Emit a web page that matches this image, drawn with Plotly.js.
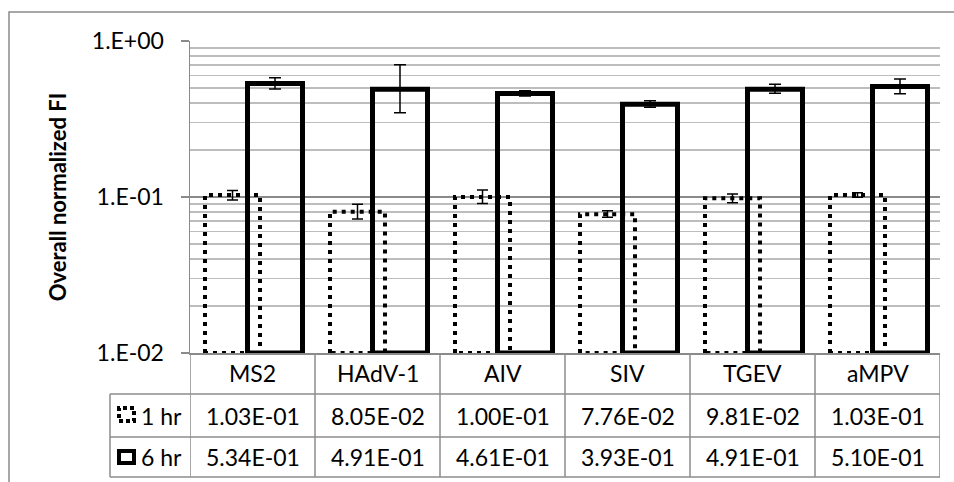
<!DOCTYPE html>
<html>
<head>
<meta charset="utf-8">
<script src="https://cdn.plot.ly/plotly-3.0.1.min.js"></script>
<style>html,body{margin:0;padding:0;background:#fff;}#chart{width:954px;height:482px;}</style>
</head>
<body>
<div id="chart"></div>
<script>
// ---- data ----
const categories = ['MS2', 'HAdV-1', 'AIV', 'SIV', 'TGEV', 'aMPV'];
const seriesNames = ['1 hr', '6 hr'];
const hr1 = [0.103, 0.0805, 0.100, 0.0776, 0.0981, 0.103];
const hr6 = [0.534, 0.491, 0.461, 0.393, 0.491, 0.510];
const hr1ErrPlus  = [0.0070, 0.0093, 0.0110, 0.0041, 0.0064, 0.0036];
const hr1ErrMinus = [0.0073, 0.0083, 0.0090, 0.0035, 0.0062, 0.0035];
const hr6ErrPlus  = [0.048, 0.214, 0.019, 0.021, 0.037, 0.061];
const hr6ErrMinus = [0.042, 0.144, 0.017, 0.017, 0.029, 0.051];
const yTickVals = [0.01, 0.1, 1];
const yTickText = ['1.E-02', '1.E-01', '1.E+00'];
const yMinorVals = [0.02, 0.03, 0.04, 0.05, 0.06, 0.07, 0.08, 0.09,
                    0.2, 0.3, 0.4, 0.5, 0.6, 0.7, 0.8, 0.9];
const yTitle = 'Overall normalized FI';

// ---- layout helpers ----
const W = 954, H = 482;
const L = 190, R = 940, T = 41, B = 353;
const PW = R - L, PH = B - T;
const px = x => (x - L) / PW;
const py = y => (B - y) / PH;
const FONT = 'Lato, "Open Sans", sans-serif';
const GRID = '#8a8a8a';
const MINOR = '#bdbdbd';
const TABLE = '#8c8c8c';

const idx = categories.map((_, i) => i);
const BASE = 0.01;
const BW = 0.44;
const OFF1 = -0.38, OFF6 = -0.04;

function fmtE(v) {
  let e = Math.floor(Math.log10(v));
  let m = v / Math.pow(10, e);
  if (Number(m.toFixed(2)) >= 10) { m /= 10; e += 1; }
  const sign = e < 0 ? '-' : '+';
  return m.toFixed(2) + 'E' + sign + String(Math.abs(e)).padStart(2, '0');
}

// dotted outline path for 1 hr bars (derived from data)
const dotX = [], dotY = [];
idx.forEach((i, k) => {
  const x0 = i + OFF1, x1 = i + OFF1 + BW, v = hr1[k];
  dotX.push(x0, x0, x1, x1, x0, null);
  dotY.push(BASE, v, v, BASE, BASE, null);
});

const traces = [
  {
    type: 'bar', name: seriesNames[0], x: idx, y: hr1.map(v => v - BASE), base: BASE,
    offset: OFF1, width: BW,
    marker: {color: 'rgba(0,0,0,0)', line: {width: 0}},
    error_y: {type: 'data', symmetric: false, array: hr1ErrPlus, arrayminus: hr1ErrMinus,
              color: '#000', thickness: 1.5, width: 5.5},
    cliponaxis: false, showlegend: false, hoverinfo: 'skip'
  },
  {
    type: 'scatter', mode: 'lines', x: dotX, y: dotY,
    line: {color: '#000', width: 4, dash: '4px,5px'},
    cliponaxis: false, showlegend: false, hoverinfo: 'skip'
  },
  {
    type: 'bar', name: seriesNames[1], x: idx, y: hr6.map(v => v - BASE), base: BASE,
    offset: OFF6, width: BW,
    marker: {color: 'rgba(0,0,0,0)', line: {color: '#000', width: 5}},
    error_y: {type: 'data', symmetric: false, array: hr6ErrPlus, arrayminus: hr6ErrMinus,
              color: '#000', thickness: 1.5, width: 6},
    cliponaxis: false, showlegend: false, hoverinfo: 'skip'
  }
];

// ---- data table (shapes + annotations) ----
const shapes = [];
const annotations = [];
const rowLines = [394, 437, 477];
const rowCenters = [415.5, 457];
const headerCenter = 373;

// outer chart-area frame
shapes.push({type: 'rect', xref: 'paper', yref: 'paper',
  x0: px(9), x1: px(975), y0: py(12), y1: py(500),
  line: {color: GRID, width: 1.5}, layer: 'below'});

// column separators
for (let j = 0; j <= categories.length; j++) {
  shapes.push({type: 'line', xref: 'x', yref: 'paper',
    x0: j - 0.5, x1: j - 0.5, y0: 0, y1: py(rowLines[2]),
    line: {color: TABLE, width: 1.5}});
}
// row separators
rowLines.forEach(r => {
  shapes.push({type: 'line', xref: 'paper', yref: 'paper',
    x0: px(110), x1: 1, y0: py(r), y1: py(r),
    line: {color: TABLE, width: 1.5}});
});
// left edge of row-label column
shapes.push({type: 'line', xref: 'paper', yref: 'paper',
  x0: px(110), x1: px(110), y0: py(rowLines[0]), y1: py(rowLines[2]),
  line: {color: TABLE, width: 1.5}});

// legend keys
shapes.push({type: 'rect', xref: 'paper', yref: 'paper',
  x0: px(119), x1: px(134), y0: py(421), y1: py(408),
  line: {color: '#000', width: 4, dash: '4px,3px'}});
shapes.push({type: 'rect', xref: 'paper', yref: 'paper',
  x0: px(119), x1: px(134), y0: py(463), y1: py(451),
  line: {color: '#000', width: 4}});

const tf = {family: FONT, size: 23, color: '#000'};
categories.forEach((c, i) => {
  annotations.push({xref: 'x', yref: 'paper', x: i, y: py(headerCenter), text: c,
    showarrow: false, font: tf, xanchor: 'center', yanchor: 'middle'});
  annotations.push({xref: 'x', yref: 'paper', x: i, y: py(rowCenters[0]), text: fmtE(hr1[i]),
    showarrow: false, font: tf, xanchor: 'center', yanchor: 'middle'});
  annotations.push({xref: 'x', yref: 'paper', x: i, y: py(rowCenters[1]), text: fmtE(hr6[i]),
    showarrow: false, font: tf, xanchor: 'center', yanchor: 'middle'});
});
seriesNames.forEach((s, k) => {
  annotations.push({xref: 'paper', yref: 'paper', x: px(184), y: py(rowCenters[k]), text: s,
    showarrow: false, font: tf, xanchor: 'right', yanchor: 'middle'});
});

const layout = {
  width: W, height: H,
  margin: {l: L, r: W - R, t: T, b: H - B, pad: 0},
  paper_bgcolor: '#fff', plot_bgcolor: 'rgba(0,0,0,0)',
  barmode: 'overlay',
  showlegend: false,
  xaxis: {type: 'linear', range: [-0.5, categories.length - 0.5], showgrid: false, zeroline: false,
    showticklabels: false, ticks: '', showline: true, linecolor: GRID, linewidth: 1.5, fixedrange: true},
  yaxis: {type: 'log', range: [-2, 0], tickmode: 'array', tickvals: yTickVals, ticktext: yTickText,
    title: {text: '<b>' + yTitle + '</b>', standoff: 19, font: {family: FONT, size: 22, color: '#000'}},
    automargin: false,
    showgrid: true, gridcolor: GRID, gridwidth: 1.5, zeroline: false,
    showline: true, linecolor: GRID, linewidth: 1.5,
    ticks: 'outside', ticklen: 8, tickcolor: GRID, tickwidth: 1.5, ticklabelstandoff: 12,
    tickfont: {family: FONT, size: 23, color: '#000'},
    minor: {tickmode: 'array', tickvals: yMinorVals, showgrid: true, gridcolor: MINOR, gridwidth: 1.5, ticks: ''},
    fixedrange: true},
  shapes: shapes,
  annotations: annotations
};

Plotly.newPlot('chart', traces, layout, {staticPlot: true, displayModeBar: false});
</script>
</body>
</html>
